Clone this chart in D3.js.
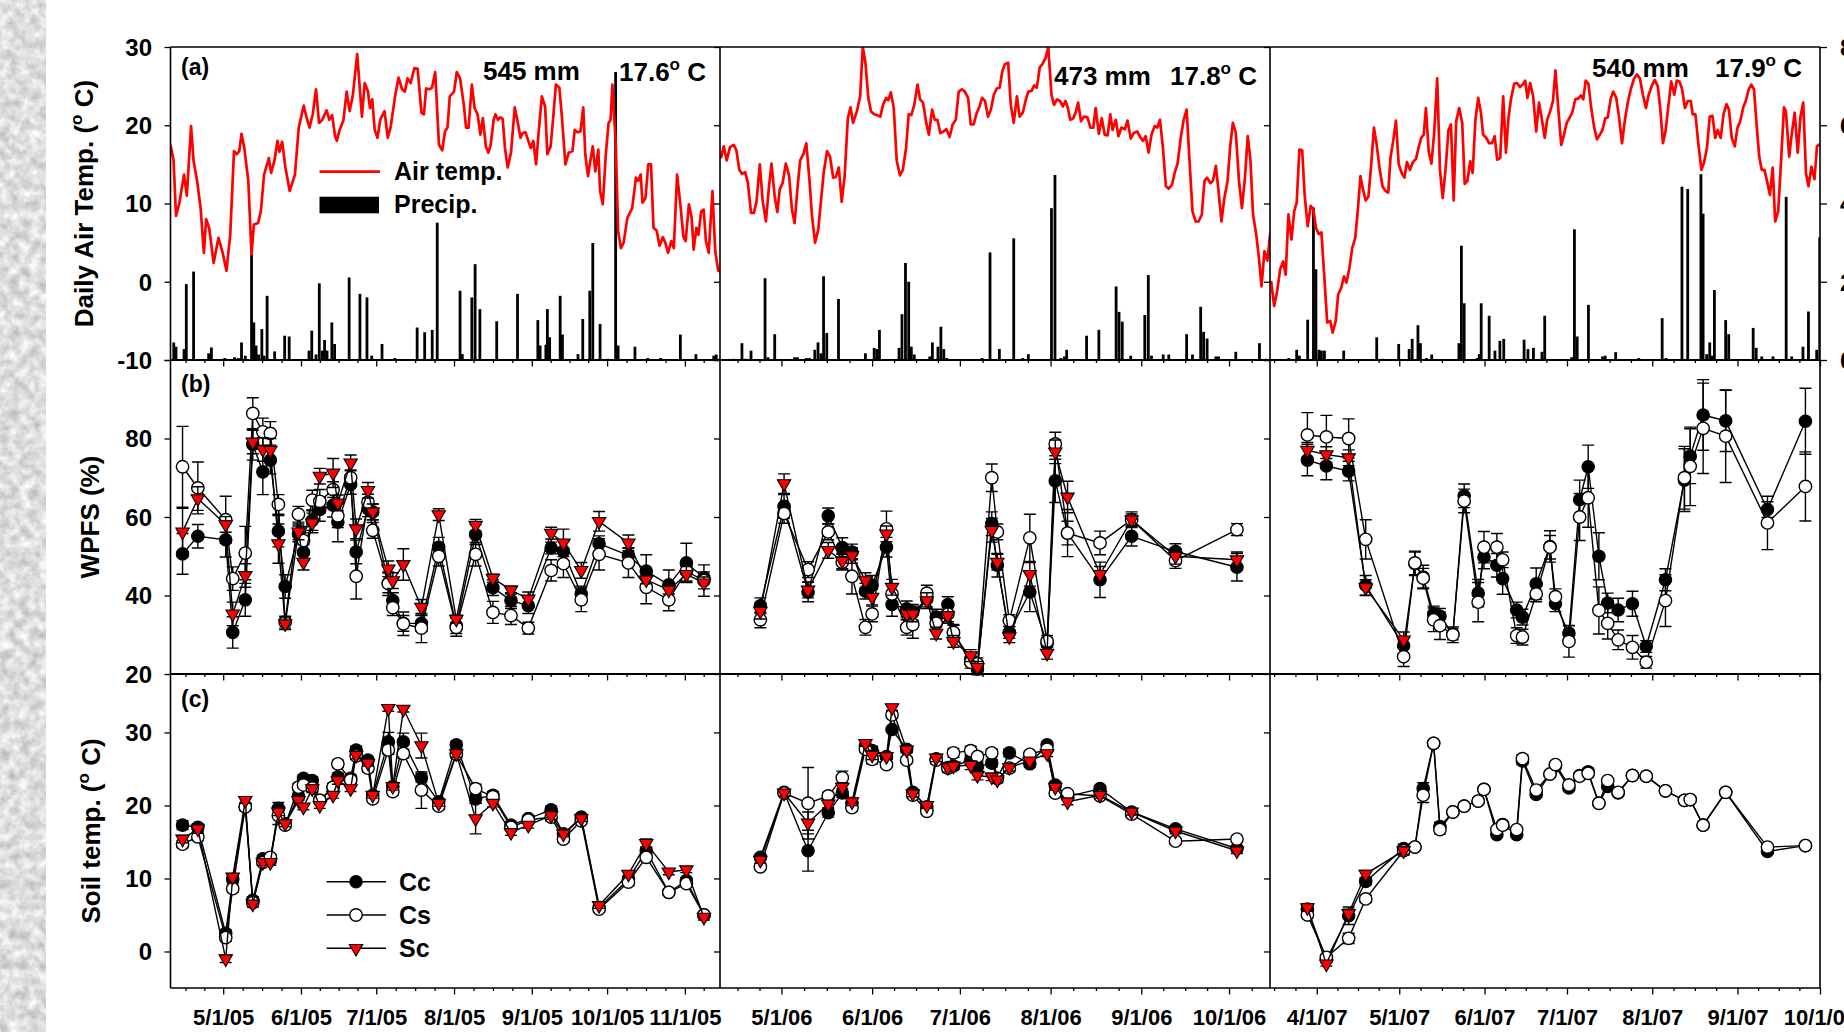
<!DOCTYPE html>
<html><head><meta charset="utf-8">
<script src="https://cdn.jsdelivr.net/npm/d3@7"></script>
<style>
html,body{margin:0;padding:0;background:#fff;overflow:hidden}
svg{display:block}
text{font-family:"Liberation Sans",Arial,Helvetica,sans-serif;font-weight:bold;fill:#000}
</style></head><body>
<svg id="chart" width="1844" height="1032"></svg>
<script>
// ---------------- DATA ----------------
// Daily air temperature (°C): [day since season start, value]
const air2005=[[0,17.5],[1.2,15.6],[2.2,8.4],[3.5,10],[5.4,13.7],[6.5,11],[8.2,19.9],[9.2,15.4],[10.6,12.9],[12,9.4],[13.3,3.7],[14.2,8],[15.4,6.9],[17.2,2.4],[19.1,5.6],[20.8,3.7],[22.3,1.4],[23.8,6],[25.3,16.7],[26.4,16.3],[27.4,16.7],[28.3,18.9],[29.4,17.1],[31,12.9],[32.3,3.5],[33.2,7.3],[34.9,7.5],[36,9],[37.3,13.7],[39.2,15.8],[40.1,13.9],[41.5,15.6],[42.6,18],[43.4,16.6],[44.5,17.9],[45.8,14.6],[47.5,11.6],[49.6,13.7],[51.1,19.7],[53.1,22.5],[54.3,20.9],[55.4,19.7],[56.7,21.4],[58,24.6],[59.2,20.3],[60.5,20.7],[62.2,21.9],[63.3,20.7],[64.4,21.3],[65.6,18.6],[66.3,18],[67.4,19.4],[68.9,20.6],[70.2,24.3],[71.4,21.8],[72.7,23.9],[74.4,29.1],[76.3,21.1],[77.4,25.4],[78.7,24.3],[79.5,22.2],[80.4,23.3],[81.4,19.4],[82.5,18.4],[83.6,20.7],[85.3,21.8],[86.6,18.4],[87.7,19.7],[89.6,23.9],[90.9,26.1],[92.3,24.6],[93.4,24.3],[94.5,26],[95.7,25.4],[97.2,27.3],[98.5,27.2],[100,21.6],[101,21.4],[101.9,24.7],[103.3,24.6],[104.2,24.8],[105.5,26.8],[107,17.5],[108.3,16.8],[109.4,19.2],[110.4,19.7],[111.3,23.7],[113,24.3],[114.1,26.8],[115.4,26],[116.9,22.6],[117.8,19.7],[118.8,19.7],[120.1,25.2],[121.2,22.2],[122.4,21.4],[123.5,18.8],[124.5,20.9],[125.7,17.3],[126.7,16.5],[127.6,17.5],[128.8,20.7],[129.5,21.4],[130.5,20.7],[131.4,21],[132.4,20.8],[133.3,17.1],[134.4,14.6],[135.7,16.5],[137.2,22.3],[138.2,20.7],[139.5,18.4],[140.4,19],[141.5,19.1],[142.6,18],[143.6,17.1],[144.6,18],[145.7,15],[146.8,19.4],[148,23.7],[149.3,22.4],[150.2,16.3],[151.5,17.3],[152.5,20.9],[153.6,25.2],[155,24.8],[155.9,21.4],[157.4,15],[158.7,16.5],[160.2,16.7],[161.1,19.4],[162.2,19.1],[163.4,19.2],[164.5,22.3],[165.3,16.3],[166.4,13.5],[167.3,15.4],[168.3,17.3],[169.3,14.1],[170.5,16.9],[171.2,11.6],[172.3,9.9],[173.5,16.3],[174.6,20.3],[175.4,20.7],[176.1,25.2],[177.4,18],[178.4,6.5],[179.5,4.3],[180.6,5],[182.1,8.2],[184,9.4],[185.5,13.3],[186.4,12.9],[187.4,13.7],[188.1,10.1],[189.3,10.7],[190.4,15],[191.5,15],[192.5,6.9],[193.8,6.5],[194.9,4.6],[196.2,5.7],[197.2,5],[198.3,3.7],[199.6,5.2],[200.6,4.3],[201.9,13.7],[203.2,9.9],[204.4,5.8],[205.3,5.2],[206.6,9.9],[207.7,8.2],[208.5,4.1],[209.6,6.9],[210.4,6],[211.5,9],[212.5,9.2],[213.4,5.2],[214.5,3.7],[216,11.6],[217.1,3.9],[218.3,1.4],[219,1.4]];
const air2006=[[0.3,15.8],[1.3,17.3],[2.3,15.5],[3.4,17.2],[4.7,17.5],[5.6,16.8],[6.6,14.3],[7.5,13.8],[8.6,14],[9.5,12.7],[10.6,8.8],[11.6,8.8],[12.5,10.3],[13.6,15],[14.6,10.3],[15.7,7.7],[16.7,12],[17.6,15.1],[18.7,10.9],[19.6,8.9],[20.4,11.8],[21.4,12.6],[22.5,15.1],[23.6,13.6],[24.6,9.2],[25.5,7.5],[26.5,12],[27.4,15.5],[28.5,16.3],[29.5,17.7],[30.6,12.9],[31.4,8.6],[32.5,5],[33.6,6.7],[34.6,10.7],[35.5,14.1],[36.6,16.7],[37.6,16],[38.7,13.3],[39.6,13.4],[40.6,14.6],[41.6,10.2],[42.6,13.5],[43.7,20.9],[44.6,22.3],[45.5,20.3],[46.8,21.8],[47.9,23.7],[48.8,30],[49.7,28],[50.7,23.5],[51.6,21.8],[52.7,21.4],[53.7,21.3],[54.8,21.1],[55.7,22.6],[56.8,23.5],[57.5,23.2],[58.4,24.2],[59.4,22.2],[60.4,15.5],[61.5,13.6],[62.5,14.3],[63.6,17.1],[64.5,21.4],[65.4,21.3],[66.4,22.6],[67.5,25.2],[68.4,23.3],[69.4,22.9],[70.4,20.5],[71.4,18.8],[72.5,22],[73.4,20.7],[74.3,20.7],[75.3,19],[76.4,19.2],[77.4,19.5],[78.5,18.5],[79.5,20.1],[80.6,20.7],[81.6,24.3],[82.7,24.6],[83.7,24.3],[84.8,23.5],[85.7,20.1],[86.7,20.1],[87.6,21.4],[88.7,22.4],[89.6,23.5],[90.6,23.1],[91.6,21.1],[92.6,22],[93.6,23.9],[94.6,24.7],[95.6,24.8],[96.5,26.9],[97.4,27.8],[98.5,28],[99.4,22.6],[100.4,20.3],[101.5,23.7],[102.4,21.1],[103.5,21.6],[104.5,23.2],[105.4,24.3],[106.5,24.4],[107.4,25.1],[108.3,24.8],[109.3,27.4],[110.2,27.8],[111.3,28.6],[112.2,30],[113.3,23.9],[114.2,22.6],[115.2,23.3],[116.2,23.1],[117.2,22.4],[118.1,23.1],[118.9,22.2],[119.7,20.7],[120.8,20.9],[121.7,21.8],[122.4,22.9],[123.4,20.5],[124.4,21.1],[125.6,21],[126.6,19.7],[127.6,19.7],[128.4,22.2],[129.5,18.9],[130.5,20.9],[131.5,18.8],[132.5,18.7],[133.4,21.4],[134.2,19.4],[135.3,20.7],[136.2,18.6],[137.2,19.7],[138.4,19.5],[139.3,20.6],[140.4,18.3],[141.4,19],[142.6,19.2],[143.6,18.5],[144.6,18],[145.5,18.6],[146.5,16.5],[147.5,18.8],[148.6,19.9],[149.5,19.7],[150.4,20.7],[151.4,17.1],[152.4,12.2],[153.4,11.9],[154.5,12.4],[155.4,13.9],[156.4,15.1],[157.5,18.4],[158.5,20.7],[159.5,22],[160.5,15.4],[161.5,9],[162.6,7.7],[163.6,7.7],[164.7,8.6],[165.6,12.9],[166.5,13.3],[167.6,12.6],[168.5,12.9],[169.5,14.8],[170.4,11.6],[171.4,7.7],[172.4,10.7],[173.5,12.9],[174.4,17.3],[175.3,20.3],[176.3,19.1],[177.4,12.9],[178.4,9.4],[179.4,13.1],[180.4,18.6],[181.3,15.6],[182.2,8.6],[183.3,6],[184.2,3.1],[185.1,-0.6],[186.1,3.9],[187.1,2.7],[188.1,6.3]];
const air2007=[[0.4,0.1],[1.5,-3.1],[2.6,-1.2],[3.7,1.6],[4.8,2.6],[5.7,0.9],[6.7,8.6],[7.8,5.4],[8.8,9],[9.7,10.1],[10.7,16.9],[11.7,16.8],[12.6,11.1],[13.7,7.1],[14.8,9.7],[15.8,9.2],[16.7,6.9],[17.7,6.1],[18.7,6.3],[19.7,0.9],[20.8,-5.2],[21.9,-5],[22.8,-6.5],[23.9,-5],[24.8,-1.6],[25.9,-0.8],[26.9,0.7],[27.8,-0.1],[28.9,1.8],[29.9,4.3],[31,5.6],[31.9,9],[32.9,13.5],[33.8,11.8],[34.8,10.4],[35.8,10.9],[36.8,15],[37.8,19.7],[38.8,17.5],[39.8,14.6],[40.9,12.2],[42,11.6],[43,11.4],[43.8,15.8],[44.8,18],[45.8,20.6],[46.8,15],[47.9,13.9],[48.9,13.3],[49.8,15.3],[50.9,14.3],[52,15.3],[53.1,15.7],[54,17.1],[55,18.4],[55.9,18.8],[56.7,22.2],[57.7,16.7],[58.7,15.1],[59.7,19],[60.8,26],[61.8,14.3],[62.8,10.7],[63.9,14.6],[64.9,19.4],[65.8,20.1],[66.8,10.4],[67.7,20.5],[68.8,22.2],[69.9,20.3],[70.8,12.5],[71.8,12.9],[72.8,15.4],[73.7,13.9],[74.7,20.7],[75.7,23.5],[76.7,21.6],[77.5,18.8],[78.6,18.4],[79.7,17.7],[80.7,17.7],[81.7,18.6],[82.6,15.6],[83.7,15.8],[84.8,23.7],[85.8,16.5],[86.7,20.9],[87.7,23.5],[88.8,25.3],[89.8,25.4],[90.9,24.9],[91.9,25.2],[92.8,25.7],[93.6,23.5],[94.6,25.4],[95.7,23.7],[96.8,19.2],[97.8,22.9],[98.9,20.7],[99.9,18.4],[100.8,20.7],[101.9,21.8],[102.9,23.1],[103.8,27],[104.9,21.8],[105.9,17.5],[106.9,18.8],[107.9,20.3],[109,21],[109.9,21.6],[111,23.3],[112.1,23.4],[113.1,23.8],[113.9,23.3],[114.8,25.7],[115.8,25.3],[116.8,22.2],[117.9,19.7],[118.9,18.2],[120,18.8],[120.9,19.4],[121.9,20.9],[122.8,21],[123.9,23.4],[124.8,24.3],[125.9,23.5],[126.9,21.1],[128,17.7],[129,20.5],[130.1,22.9],[131.2,24.6],[132.3,25.9],[133.4,26.5],[134.5,26],[135.6,23.9],[136.7,22.2],[137.7,23.9],[138.8,25],[139.9,25.8],[141,25],[141.9,22.2],[142.9,17.7],[143.9,19.4],[144.9,22.6],[145.9,25.6],[147,23.9],[147.9,25.7],[148.9,25.6],[149.8,24.7],[150.9,22.2],[151.9,23.1],[153,23.1],[153.7,21.4],[154.7,21.4],[155.8,17.5],[156.9,14.3],[157.8,15.2],[158.9,17.1],[159.9,21.1],[160.9,21.2],[161.9,18.4],[162.8,19.4],[163.9,18.4],[164.9,21.4],[166,22.7],[166.9,22],[167.9,18.4],[169,17.3],[170,19.7],[171,20.5],[172.1,22.3],[173,23.1],[174.1,24.6],[175,25.2],[176,24.6],[176.9,20.3],[177.9,16],[178.8,14.3],[179.8,14.3],[180.9,12.6],[181.8,11.1],[182.8,14.6],[183.7,7.7],[184.8,9],[185.9,15.8],[186.9,22.3],[187.6,21.8],[188.8,16],[189.7,18.8],[190.8,21.6],[191.9,16.5],[192.9,21.1],[193.9,22.9],[194.9,13.9],[195.8,12.2],[196.9,14.7],[198,13.1],[198.9,17.3],[199.9,17.6]];

// Daily precipitation (mm): [day since season start, value]
const precip2005=[[1.3,4.5],[2.2,3.4],[5.4,2.8],[6.3,19.4],[9.2,22.6],[15.2,1.7],[16.3,3.2],[21.6,0.5],[25.5,0.7],[27,0.5],[28.3,4.5],[29.8,1.1],[32.3,27],[33.2,9.6],[34.1,3.7],[35.1,1.4],[36.4,7.9],[37.3,1.1],[38.5,16.4],[41.5,2.2],[45.5,6.2],[47.3,6],[55.2,2.4],[56.3,7.5],[58,1.4],[59.3,19.6],[60.5,2.4],[61.4,5.1],[62.4,2.4],[64.3,9.6],[65.4,4.1],[71.2,21.1],[75.5,16.9],[78.3,16],[80.2,1.1],[84.3,4.1],[89.4,0.5],[98.3,8.3],[101.3,7.1],[104.3,7.7],[106.3,35.1],[115.4,17.7],[116.3,1.5],[120.1,16],[121.4,24.5],[123.3,13],[130,9.9],[138.3,16.9],[146.4,10.2],[147.3,3.7],[149.6,3.9],[150.2,13],[151.1,5.8],[155.3,16.4],[156.2,6.5],[162.4,1.5],[164.3,10.5],[167.1,17.7],[168.3,29.9],[171.2,9.2],[174.3,0.3],[177.4,73.6],[178.4,3.7],[185.1,3.4],[190.2,0.5],[195.3,0.5],[203.2,6.5],[209.4,1.5],[216.5,1.1],[217.5,1.4],[218.8,0.3]];
const precip2006=[[4.7,0.3],[7.5,4.3],[8.6,0.3],[10.6,2.4],[15.4,20.9],[16.4,0.7],[18.7,6.6],[25.5,0.7],[26.5,0.7],[29.5,0.5],[30.6,0.5],[32.4,2.6],[33.5,4.5],[34.5,1.7],[35.4,21.4],[36.5,6.9],[40.5,15.6],[49.7,1.7],[52.7,3.1],[53.6,2.8],[54.5,7.7],[61.2,3.1],[62.2,11.7],[63.4,24.8],[64.5,20],[65.4,3.4],[66.4,1.4],[71.7,0.9],[72.6,4.5],[74.5,3.4],[75.5,8.5],[76.5,2.8],[77.5,0.5],[89.6,0.5],[92.3,27.5],[95.5,2.8],[100.4,31.1],[103.5,0.5],[105.4,1.5],[113.3,38.8],[114.5,47.3],[116.5,0.5],[117.7,0.9],[118.5,2.6],[125.3,6.2],[129.5,7.7],[135.4,18.8],[136.4,12.3],[137.5,9.8],[140.4,1.1],[145.2,11.5],[146.4,21.7],[147.5,1.1],[151.5,1.4],[153.4,1.4],[159.5,6.6],[161.5,1.4],[164.3,13.6],[165.3,7.2],[166.5,5.5],[169.5,0.9],[170.4,0.9],[176.3,2.1],[184.4,4.3],[186.5,0.3]];
const precip2007=[[6.8,0.5],[9.7,2.6],[10.7,1.1],[13.7,10.3],[15.8,39],[16.7,23.2],[17.8,2.6],[18.7,2.4],[19.8,2.4],[26.8,2.4],[38.8,5.8],[40.9,0.3],[46.8,4.1],[50.6,2.8],[51.7,5.4],[53.8,8.9],[54.7,4.3],[56.9,0.5],[58.8,1.4],[68.7,4.3],[69.6,29.2],[70.6,14.5],[75.3,0.5],[76.1,1.5],[76.8,14.5],[79.7,11.3],[81.8,2.4],[83.6,4.9],[85,5.4],[92.4,5.2],[93.8,2.8],[95.8,3.1],[98.9,2.1],[99.9,11.3],[109.7,0.7],[110.7,33.4],[111.7,6],[115.8,14.1],[120.9,0.9],[121.9,1.1],[125.7,2],[134.1,0.5],[142.6,10.7],[144,0.5],[149.8,44.3],[151.9,43.7],[156.7,47.5],[157.5,37.4],[158.8,1.5],[159.9,4.5],[160.8,1.1],[161.6,17.9],[165.7,10.2],[166.8,6.6],[175.7,8.2],[176.8,3.1],[178.8,0.9],[182.9,0.9],[187.7,41.7],[189.7,0.9],[193.8,3.4],[195.8,12.4],[198.8,2.6],[199.9,31.3]];

// Sampling days (days since season start)
const sampleDays2005=[4.8,10.9,22,24.8,29.8,32.8,36.8,39.8,43,45.7,51,53,56.5,59.5,64.8,66.7,71.8,74,78.7,80.6,86.8,88.6,92.8,100,106.9,113.9,121.6,128.5,135.7,142.6,151.7,156.6,163.7,170.8,182.5,189.6,198.6,205.6,212.6];
const sampleDays2006=[13.8,21.9,30.1,37,41.8,45.1,49.7,52,56.9,58.8,63.8,65.9,70.7,73.9,77.9,79.8,85.7,88,92.9,94.8,98.9,105.9,111.8,114.6,118.8,129.9,140.7,155.7,176.7];
const sampleDays2007=[13.6,20.5,28.6,34.8,48.6,52.7,55.7,59.5,61.8,66.5,70.6,75.7,77.8,82.5,84.6,89.7,91.8,96.8,101.8,103.8,108.7,112.6,115.7,119.6,122.8,126.6,131.8,136.8,143.8,150.7,152.8,157.5,165.7,180.9,194.7];

// WPFS (%) and standard errors
const wpfsCc2005=[50.6,55.1,54.2,30.6,38.9,78.5,71.5,74.5,56.4,42.3,55.7,51,59.1,61.9,63,58.7,68.3,51.1,62.1,61.3,43.2,38.7,32.9,32.9,52.3,32.3,55.5,42,38.7,37.4,52.1,51.3,40.4,53.2,50.2,46.2,42.7,48.3,44.5];
const wpfsCs2005=[72.8,67.4,59.3,44.3,50.8,86.4,81.7,81.3,63.2,33.2,60.7,54,64.3,64,67,60.3,70,44.9,63.8,56.6,43,36.9,32.8,31.7,50,31.9,50.5,35.7,34.9,31.7,46.4,48.1,38.9,50.5,48.3,42.1,38.9,46.2,43.8];
const wpfsSc2005=[56.2,64.7,58.1,35.3,45.1,79.1,77.2,77,53.2,32.8,56.2,48.5,58.5,70.4,71.2,63.6,73.8,57,66.8,61.3,46.8,43.8,47.9,37,60.6,34,57.9,44.4,41.4,39.1,55.9,53.4,46.4,58.9,53.4,44,41.4,45.4,43.2];
const wpfsErrCc2005=[5.2,3,4.4,4,4.2,4,5.8,3.5,4,3,2,2,2.5,3,3,5,2.5,3,2,2,2.5,2,2,2,2.5,2,2.5,2,2,2,1.5,2.5,2,2,2,4.2,3.8,5,1.5];
const wpfsErrCs2005=[10.3,6.6,6,3,6.8,4,3.5,3,2.5,1.5,2,3.5,2.5,3,2,3,2,5.8,2,2,3,2,3,3.7,2.5,2.3,3,2.8,2.3,1.5,2.7,3.5,3,4,3.7,4.2,2.8,2.5,4];
const wpfsErrSc2005=[6,3,2,3,3,3,3,3,5,1.5,2,2,2.5,2,3.7,2,2,2.5,2,2,2,2,4,2,1.5,1,1.5,1,1,1.8,1.5,3.5,2,2.5,2,1,1,2,1.5];

const wpfsCc2006=[37.4,62.7,40.9,60.3,52.2,51.1,41.1,42.6,52.3,37.7,36.6,35.7,39.1,34.5,37.7,30.4,23.8,21.3,58.3,47.7,30.6,40.9,27.7,69.2,55.9,44,55.1,51.2,47.2];
const wpfsCs2006=[33.8,60.9,46.6,56.2,48.5,44.9,31.9,35.3,57,40.4,31.9,32.6,40.6,32.9,35.3,30.6,23,22.6,70,56.2,33.6,54.7,28.3,78.6,55.9,53.4,59.3,48.9,56.8];
const wpfsSc2006=[36,68.5,41.4,51.5,48.8,50.2,43.8,39.6,55.7,42.1,35.3,35.3,38.7,30.4,34.9,28.3,24.7,21.7,56.6,48.5,29.5,45.4,25.3,76.6,65.1,45.4,59.3,50,49.1];
const wpfsErrCc2006=[2,3,2.5,2,2.5,2,2,2.5,2.5,3,2,2,2,2,2,2,1.5,1.5,3,3,1.5,5,1.5,5.5,6,4.5,2.5,2,3.5];
const wpfsErrCs2006=[2,2.5,2,2,2,4.5,2,2,4.5,2.5,2,3.5,2,2,2,2,1.5,1.5,3.5,2,1.5,6,1.5,3,3,3,2,2,1.5];
const wpfsErrSc2006=[2,2.5,2,2,2,2,2,2,2,2,1.5,2,2,1.5,2,1.5,1.5,1.5,3,2,1.5,3,1.5,3,4,2,1.5,2,2];

const wpfsCc2007=[74.5,73,71.7,42.6,27.2,48.1,44.7,35.3,34.7,30.2,65.4,40.6,49.8,47.7,44.3,36.3,34.5,43,52.5,37.9,30.4,64.4,72.8,50,38.1,36.3,37.9,27,44,69.4,75.5,86,84.5,61.9,84.4];
const wpfsCs2007=[80.9,80.4,80,54.3,24.4,48.3,44.4,33.8,32.3,30,64.1,38.3,52.3,52.3,49.1,29.8,29.4,40.4,52.3,39.7,28.3,60,64.9,36.2,32.9,28.7,26.8,23,38.7,70,72.9,82.6,80.6,58.5,67.8];
const wpfsSc2007=[77,75.9,75.1,42,28.7];
const wpfsErrCc2007=[4,3.5,2.5,2.5,2,3,3,2,2,1.5,3,3.5,3,3,4,2,2,4,4,2,2,5,5.5,6,2.5,3,3.2,1.5,2.8,8,7,9,7.8,2,8.4];
const wpfsErrCs2007=[5.7,5.5,5,5,2.5,3,2.5,3,3.5,2,3,5,4,3.5,2,2,2,2,3,2,4,6,7.5,6,4,2.5,3,1.5,6.6,8,10,11.5,11.8,6.8,8.8];
const wpfsErrSc2007=[2,2,2,2,2];

// Soil temperature (°C) and standard errors
const soilCc2005=[17.3,17,2.5,9.9,19.9,7,12.7,12.5,19.6,17.5,21.2,23.7,23.4,20.7,22.5,23.9,23.7,27.6,26.2,21.4,28.7,22.6,28.7,23.8,20.5,28.3,20.9,21.4,17.3,18.2,19.4,16.1,18.4,6,9.9,13.8,8.1,9.7,5];
const soilCs2005=[14.7,15.7,1.9,8.6,19.8,6.7,12.2,12.9,18.6,17.3,22.5,22.8,22.4,20.7,22.5,25.7,23.5,26.8,25.1,20.9,27.6,21.9,27.1,22.1,19.9,27,22.3,21.2,17,18,18.4,15.4,17.9,5.8,9.5,12.9,8.1,9.3,5];
const soilSc2005=[15.4,16.8,-1,10.2,20.7,6.5,12.2,12.2,19.1,17.5,20.7,19.8,22.3,20,21.4,23.4,22.3,26.9,25.8,21.4,33.3,22.6,33.2,28.2,20.3,27.1,18.2,20.3,16.3,17.3,18.6,16.1,18.2,6.3,10.6,14.8,10.9,11.2,4.7];
const soilErrCc2005=[0.6,0.5,0.5,0.5,0.4,0.5,0.5,0.4,0.8,0.4,0.5,0.5,0.5,0.4,0.5,0.5,0.5,0.5,0.4,0.4,1.3,0.5,1.2,0.6,0.4,0.5,0.6,0.5,0.4,0.4,0.5,0.4,0.4,0.4,0.5,0.5,0.4,0.4,0.4];
const soilErrCs2005=[0.5,0.5,0.5,0.5,0.5,0.4,0.4,0.4,1.2,0.4,0.5,0.5,0.5,0.4,0.5,0.5,0.5,0.5,0.5,0.4,0.6,0.5,0.6,2.5,0.4,0.5,0.6,0.5,0.4,0.4,0.5,0.4,0.4,0.4,0.5,0.5,0.4,0.4,0.4];
const soilErrSc2005=[0.5,0.6,0.5,0.4,0.4,0.4,0.4,0.4,0.5,0.4,0.4,0.4,0.5,0.4,0.4,0.5,0.4,0.5,0.4,0.4,0.4,0.5,0.4,1.7,0.4,0.5,2.1,0.5,0.4,0.4,0.5,0.4,0.4,0.4,0.4,0.6,0.4,0.4,0.4];

const soilCc2006=[12.9,21.8,13.8,19,21.7,20.3,28.1,27.5,26.7,30.4,27.7,21.8,19.8,26.4,25.2,25.4,26.2,25.3,25.8,23.7,27.2,25.7,28.3,22.8,21.2,22.3,19.1,16.8,14.1];
const soilCs2006=[11.6,21.7,20.3,21.3,23.8,19.7,27.7,26.3,25.6,32.4,26.2,21.4,19.2,26.2,25.1,27.2,27.5,26.7,27.2,23.7,25.1,27,27.7,21.7,21.6,21.3,18.8,15.1,15.4];
const soilSc2006=[12.5,21.7,17.6,20.2,22.5,20.5,28.5,26.9,26.7,33.4,27.6,21.6,20,26.5,25.2,25.4,25.5,24.1,23.9,23.5,25.2,26.1,27.1,22.5,20.5,21.4,19.1,16.5,13.8];
const soilErrCc2006=[0.4,0.4,2.8,0.6,0.6,0.5,0.4,0.6,0.4,0.4,0.4,0.4,0.4,0.5,0.6,0.5,0.6,0.6,0.5,0.4,0.5,0.4,0.4,0.4,0.4,0.4,0.4,0.4,0.4];
const soilErrCs2006=[0.4,0.4,4.9,0.5,0.9,0.5,0.4,0.6,0.4,0.4,0.4,0.4,0.4,0.5,0.6,0.6,0.6,0.6,0.5,0.4,0.5,0.4,0.4,0.4,0.4,0.4,0.4,0.4,0.4];
const soilErrSc2006=[0.4,0.4,1.5,0.5,0.6,0.5,0.4,0.6,0.4,0.4,0.4,0.4,0.4,0.5,0.6,0.5,0.6,0.6,0.5,0.4,0.5,0.4,0.4,0.4,0.4,0.4,0.4,0.4,0.4];

const soilCc2007=[5.8,-1.1,4.9,9.6,14.1,14.3,22.3,28.5,17.1,19.1,19.9,20.6,22.2,16,17.4,16,26.1,21.5,24.3,25.4,22.4,24.1,24.6,20.3,22.6,21.7,24.1,24,22,20.7,20.8,17.3,21.8,13.7,14.5];
const soilCs2007=[5,-0.8,1.8,7.2,13.8,14.3,21.4,28.5,16.7,19.1,19.9,20.6,22.2,16.7,17.3,16.7,26.4,22.1,24.3,25.6,22.8,24,24.4,20.3,23.4,21.8,24.1,24,22,20.7,20.8,17.3,21.8,14.3,14.5];
const soilSc2007=[6,-1.7,5.2,10.6,13.8];
const soilErrCc2007=[0.3,0.3,1.2,0.5,0.6,0.3,0.8,0.3,0.6,0.3,0.3,0.3,0.3,0.3,0.3,0.3,0.5,0.3,0.3,0.3,0.3,0.3,0.5,0.3,0.3,0.3,0.3,0.3,0.3,0.3,0.3,0.3,0.3,0.3,0.3];
const soilErrCs2007=[0.3,0.3,0.7,0.5,0.6,0.3,1.0,0.3,0.6,0.3,0.3,0.3,0.3,0.3,0.3,0.3,0.5,0.3,0.3,0.3,0.3,0.3,0.5,0.3,0.3,0.3,0.3,0.3,0.3,0.3,0.3,0.3,0.3,0.3,0.3];
const soilErrSc2007=[0.5,0.3,0.6,0.5,0.5];

// Season totals / means and axis tick values
const seasonTotals=['545 mm','473 mm','540 mm'];
const seasonMeans=['17.6','17.8','17.9'];
const airTicks=[-10,0,10,20,30];
const precipTicks=[0,20,40,60,80];
const wpfsTicks=[20,40,60,80,100];
const wpfsTickLabels=['20','40','60','80',''];
const soilTicks=[0,10,20,30];
const seriesNames=['Cc','Cs','Sc'];

// ---------------- LAYOUT ----------------
const W=1844,H=1032,DAY=864e5;
const svg=d3.select('#chart');
const defs=svg.append('defs');

// textured strip at the far left
const flt=defs.append('filter').attr('id','paper').attr('x',0).attr('y',0).attr('width',1).attr('height',1)
  .attr('color-interpolation-filters','sRGB');
flt.append('feTurbulence').attr('type','fractalNoise').attr('baseFrequency','0.1').attr('numOctaves',4).attr('seed',7);
flt.append('feColorMatrix').attr('type','matrix')
  .attr('values','0.38 0 0 0 0.68  0.38 0 0 0 0.68  0.38 0 0 0 0.68  0 0 0 0 1');
svg.append('rect').attr('x',0).attr('y',0).attr('width',46).attr('height',H).attr('filter','url(#paper)');

const ROW={a:[47,360],b:[360,674],c:[674,988]};
const yAir=d3.scaleLinear().domain([-10,30]).range([360,47]);
const yPrec=d3.scaleLinear().domain([0,80]).range([360,47]);
const yWpfs=d3.scaleLinear().domain([20,100]).range([674,360]);
const ySoil=d3.scaleLinear().domain([-5,38]).range([988,674]);

const seasons=[
 {x0:170.5,x1:720,start:Date.UTC(2005,3,10),end:Date.UTC(2005,10,15),air:air2005,precip:precip2005,days:sampleDays2005,
  wpfs:[[wpfsCc2005,wpfsErrCc2005],[wpfsCs2005,wpfsErrCs2005],[wpfsSc2005,wpfsErrSc2005]],
  soil:[[soilCc2005,soilErrCc2005],[soilCs2005,soilErrCs2005],[soilSc2005,soilErrSc2005]],
  totPos:[483,80],meanPos:[619,81]},
 {x0:720,x1:1270,start:Date.UTC(2006,3,10),end:Date.UTC(2006,9,15),air:air2006,precip:precip2006,days:sampleDays2006,
  wpfs:[[wpfsCc2006,wpfsErrCc2006],[wpfsCs2006,wpfsErrCs2006],[wpfsSc2006,wpfsErrSc2006]],
  soil:[[soilCc2006,soilErrCc2006],[soilCs2006,soilErrCs2006],[soilSc2006,soilErrSc2006]],
  totPos:[1054,85],meanPos:[1170,85]},
 {x0:1270,x1:1820,start:Date.UTC(2007,2,15),end:Date.UTC(2007,9,1),air:air2007,precip:precip2007,days:sampleDays2007,
  wpfs:[[wpfsCc2007,wpfsErrCc2007],[wpfsCs2007,wpfsErrCs2007],[wpfsSc2007,wpfsErrSc2007]],
  soil:[[soilCc2007,soilErrCc2007],[soilCs2007,soilErrCs2007],[soilSc2007,soilErrSc2007]],
  totPos:[1592,77],meanPos:[1715,77]}
];

const fmt=d3.utcFormat('%-m/%-d/%y');
const triangle=d3.symbol(d3.symbolTriangle,78)();

function marker(sel,kind){
  if(kind===0) sel.append('circle').attr('r',6.2).attr('fill','#000').attr('stroke','#000').attr('stroke-width',1.2);
  else if(kind===1) sel.append('circle').attr('r',6.2).attr('fill','#fff').attr('stroke','#000').attr('stroke-width',1.4);
  else sel.append('path').attr('d',triangle).attr('transform','rotate(180)').attr('fill','#ff0000').attr('stroke','#000').attr('stroke-width',1.1);
}

seasons.forEach((s,si)=>{
  s.x=d3.scaleUtc().domain([new Date(s.start),new Date(s.end)]).range([s.x0,s.x1]);
  const dt=d=>new Date(s.start+d*DAY);
  const g=svg.append('g');

  // ---- panel (a): precip bars + air temperature ----
  const cid='clipA'+si;
  defs.append('clipPath').attr('id',cid).append('rect').attr('x',s.x0).attr('y',ROW.a[0]).attr('width',s.x1-s.x0).attr('height',ROW.a[1]-ROW.a[0]);
  const ga=g.append('g').attr('clip-path',`url(#${cid})`);
  ga.selectAll('rect.bar').data(s.precip).join('rect').attr('class','bar')
    .attr('x',d=>s.x(dt(d[0]))-1.4).attr('width',2.8)
    .attr('y',d=>yPrec(d[1])).attr('height',d=>yPrec(0)-yPrec(d[1])).attr('fill','#000');
  ga.append('path').datum(s.air)
    .attr('d',d3.line().x(d=>s.x(dt(d[0]))).y(d=>yAir(d[1])))
    .attr('fill','none').attr('stroke','#ff0000').attr('stroke-width',2.7).attr('stroke-linejoin','round');

  // ---- panels (b) & (c): three treatments ----
  [[s.wpfs,yWpfs],[s.soil,ySoil]].forEach(([ser,y])=>{
    ser.forEach(([vals,errs],k)=>{
      const pts=vals.map((v,i)=>({x:s.x(dt(s.days[i])),y:y(v),lo:y(v-errs[i]),hi:y(v+errs[i])}));
      const gs=g.append('g');
      gs.append('path').datum(pts).attr('d',d3.line().x(p=>p.x).y(p=>p.y))
        .attr('fill','none').attr('stroke','#000').attr('stroke-width',1.4);
      gs.selectAll('path.err').data(pts).join('path').attr('class','err')
        .attr('d',p=>`M${p.x},${p.lo}V${p.hi}M${p.x-6},${p.lo}h12M${p.x-6},${p.hi}h12`)
        .attr('fill','none').attr('stroke','#000').attr('stroke-width',1.4);
      gs.selectAll('g.m').data(pts).join('g').attr('class','m')
        .attr('transform',p=>`translate(${p.x},${p.y})`).call(sel=>marker(sel,k));
    });
  });

  // ---- x axes (ticks below each row) ----
  const majors=d3.utcMonth.range(new Date(s.start),new Date(s.end+1));
  const minors=[];
  let m=d3.utcMonth.floor(new Date(s.start));
  while(+m<s.end){
    const n=d3.utcMonth.offset(m,1);
    for(let q=1;q<4;q++){const t=new Date(+m+q*(n-m)/4); if(+t>s.start && +t<s.end) minors.push(t);}
    m=n;
  }
  [ROW.a[1],ROW.b[1],ROW.c[1]].forEach((yy,ri)=>{
    const gx=g.append('g').attr('transform',`translate(0,${yy})`);
    gx.call(d3.axisBottom(s.x).tickValues(minors).tickSize(3).tickSizeOuter(0).tickFormat(''));
    const gM=g.append('g').attr('transform',`translate(0,${yy})`);
    gM.call(d3.axisBottom(s.x).tickValues(majors).tickSize(6.5).tickSizeOuter(0).tickFormat(ri===2?fmt:''));
    [gx,gM].forEach(a=>{a.select('.domain').remove(); a.selectAll('line').attr('stroke','#000').attr('stroke-width',1.3);});
    gM.selectAll('text').attr('y',37).attr('dy',0).style('font-size','22px').style('font-family','"Liberation Sans",Arial,sans-serif').style('font-weight','bold').attr('fill','#000');
  });

  // ---- y axes (left of each column) ----
  const yAxes=[[yAir,airTicks,d=>String(d)],[yWpfs,wpfsTicks,(d,i)=>wpfsTickLabels[i]],[ySoil,soilTicks,d=>String(d)]];
  yAxes.forEach(([y,vals,f])=>{
    const gy=g.append('g').attr('transform',`translate(${s.x0},0)`);
    gy.call(d3.axisLeft(y).tickValues(vals).tickSize(6).tickSizeOuter(0).tickPadding(12.5).tickFormat(si===0?f:''));
    gy.select('.domain').remove();
    gy.selectAll('line').attr('stroke','#000').attr('stroke-width',1.3);
    gy.selectAll('text').attr('dy','0.35em').style('font-size','24px').style('font-family','"Liberation Sans",Arial,sans-serif').style('font-weight','bold').attr('fill','#000');
  });
  if(si===2){
    const gr=g.append('g').attr('transform',`translate(${s.x1},0)`);
    gr.call(d3.axisRight(yPrec).tickValues(precipTicks).tickSize(7).tickSizeOuter(0).tickPadding(13));
    gr.select('.domain').remove();
    gr.selectAll('line').attr('stroke','#000').attr('stroke-width',1.3);
    gr.selectAll('text').attr('dy','0.35em').style('font-size','24px').style('font-family','"Liberation Sans",Arial,sans-serif').style('font-weight','bold').attr('fill','#000');
  }

  // ---- season annotations ----
  g.append('text').attr('x',s.totPos[0]).attr('y',s.totPos[1]).style('font-size','26px').text(seasonTotals[si]);
  const tm=g.append('text').attr('x',s.meanPos[0]).attr('y',s.meanPos[1]).style('font-size','26px');
  tm.append('tspan').text(seasonMeans[si]);
  tm.append('tspan').attr('dy',-11).style('font-size','17px').text('o');
  tm.append('tspan').attr('dy',11).text(' C');
});

// ---- frame ----
const frame=svg.append('g').attr('stroke','#000').attr('fill','none');
frame.append('path').attr('d',`M170.5,47H1820`).attr('stroke-width',1.5);
[360,674].forEach(y=>frame.append('path').attr('d',`M170.5,${y}H1820`).attr('stroke-width',2.2));
frame.append('path').attr('d',`M170.5,988H1820`).attr('stroke-width',1.6);
[170.5,720,1270,1820].forEach(x=>frame.append('path').attr('d',`M${x},47V988`).attr('stroke-width',1.6));

// ---- panel letters ----
[['(a)',75],['(b)',392],['(c)',707]].forEach(([t,y])=>svg.append('text').attr('x',181).attr('y',y).style('font-size','23px').text(t));

// ---- axis titles ----
function vtitle(x,yc,parts){
  const t=svg.append('text').attr('transform',`translate(${x},${yc}) rotate(-90)`).attr('text-anchor','middle').style('font-size','26px');
  parts.forEach(p=>{const ts=t.append('tspan').text(p.t); if(p.sup){ts.style('font-size','17px').attr('dy',-11);} if(p.after){ts.attr('dy',11);} });
}
vtitle(93,203.5,[{t:'Daily Air Temp. ('},{t:'o',sup:true},{t:' C)',after:true}]);
vtitle(99,517,[{t:'WPFS (%)'}]);
vtitle(100,831,[{t:'Soil temp. ('},{t:'o',sup:true},{t:' C)',after:true}]);

// ---- legend in (a) ----
const la=svg.append('g');
la.append('line').attr('x1',319.5).attr('x2',380).attr('y1',171.7).attr('y2',171.7).attr('stroke','#ff0000').attr('stroke-width',2.7);
la.append('text').attr('x',394).attr('y',180).style('font-size','25px').text('Air temp.');
la.append('rect').attr('x',319.5).attr('y',196.7).attr('width',59.5).attr('height',16.6).attr('fill','#000');
la.append('text').attr('x',394).attr('y',213).style('font-size','25px').text('Precip.');

// ---- legend in (c) ----
const lc=svg.append('g');
[881.7,915,948.3].forEach((y,k)=>{
  lc.append('line').attr('x1',326.6).attr('x2',386).attr('y1',y).attr('y2',y).attr('stroke','#000').attr('stroke-width',1.6);
  lc.append('g').attr('transform',`translate(356,${y})`).call(sel=>marker(sel,k));
  lc.append('text').attr('x',399).attr('y',y+9).style('font-size','25px').text(seriesNames[k]);
});
</script>
</body></html>
